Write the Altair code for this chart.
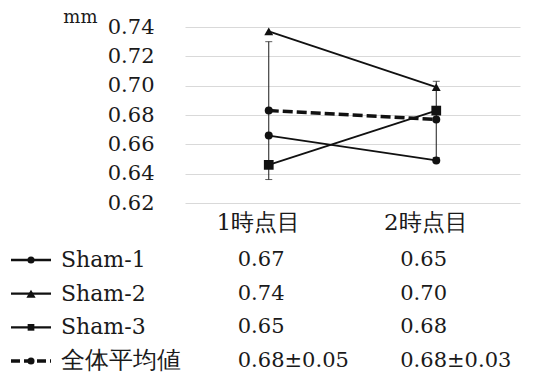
import altair as alt
import pandas as pd

# Measurement time points (x categories)
time_points = ["1時点目", "2時点目"]

# Individual series (mm)
series_names = ["Sham-1", "Sham-2", "Sham-3"]
sham1 = [0.666, 0.649]
sham2 = [0.737, 0.699]
sham3 = [0.646, 0.683]

# Overall mean and standard deviation (mm)
mean_label = "全体平均値"
mean_values = [0.683, 0.677]
sd_values = [0.047, 0.026]

y_ticks = [0.62, 0.64, 0.66, 0.68, 0.70, 0.72, 0.74]
shapes = ["circle", "triangle-up", "square"]
marker_sizes = [64, 95, 56]
key_sizes = [50, 85, 45, 50]
name_font_sizes = [22, 22, 22, 24]

SERIF = "DejaVu Serif"
INK = "#1a1a1a"

rows = []
for name, vals in zip(series_names, [sham1, sham2, sham3]):
    for t, v in zip(time_points, vals):
        rows.append({"series": name, "time": t, "value": v,
                     "label": f"{v:.2f}"})
series_df = pd.DataFrame(rows)

mean_df = pd.DataFrame({
    "time": time_points,
    "mean": mean_values,
    "sd": sd_values,
    "label": [f"{m:.2f}±{s:.2f}" for m, s in zip(mean_values, sd_values)],
})
mean_df["lo"] = mean_df["mean"] - mean_df["sd"]
mean_df["hi"] = mean_df["mean"] + mean_df["sd"]

row_order = series_names + [mean_label]

x_enc = alt.X("time:N", sort=time_points,
              scale=alt.Scale(type="point", domain=time_points, padding=0.5),
              axis=alt.Axis(title=None, labelOffset=-11, labelPadding=8,
                            labelFontSize=23))
y_scale = alt.Scale(domain=[0.62, 0.74], nice=False, zero=False)
y_axis = alt.Axis(values=y_ticks, format=".2f", grid=True,
                  labelPadding=31, title="mm", titleAngle=0,
                  titleAlign="right", titleBaseline="alphabetic",
                  titleX=-88, titleY=-5, titleFontSize=18)

# Error bars (mean ± SD)
err_rule = alt.Chart(mean_df).mark_rule(color=INK, strokeWidth=1).encode(
    x=x_enc,
    y=alt.Y("lo:Q", scale=y_scale, axis=y_axis),
    y2="hi:Q",
)
err_lo = alt.Chart(mean_df).mark_tick(color=INK, thickness=1, size=7,
                                      orient="horizontal").encode(
    x=x_enc, y=alt.Y("lo:Q", scale=y_scale, axis=y_axis))
err_hi = alt.Chart(mean_df).mark_tick(color=INK, thickness=1, size=7,
                                      orient="horizontal").encode(
    x=x_enc, y=alt.Y("hi:Q", scale=y_scale, axis=y_axis))

# Individual series lines and markers
lines = alt.Chart(series_df).mark_line(color="#111111", strokeWidth=1.8).encode(
    x=x_enc, y=alt.Y("value:Q", scale=y_scale, axis=y_axis), detail="series:N")
points = alt.Chart(series_df).mark_point(filled=True, color="#111111",
                                         opacity=1).encode(
    x=x_enc, y=alt.Y("value:Q", scale=y_scale, axis=y_axis),
    shape=alt.Shape("series:N", scale=alt.Scale(domain=series_names,
                                                range=shapes), legend=None),
    size=alt.Size("series:N", scale=alt.Scale(domain=series_names,
                                              range=marker_sizes), legend=None))

# Overall mean (dashed)
mean_line = alt.Chart(mean_df).mark_line(color="#111111", strokeWidth=3.5,
                                         strokeDash=[10, 4]).encode(
    x=x_enc, y=alt.Y("mean:Q", scale=y_scale, axis=y_axis))
mean_pts = alt.Chart(mean_df).mark_point(filled=True, color="#111111",
                                         opacity=1, size=64,
                                         shape="circle").encode(
    x=x_enc, y=alt.Y("mean:Q", scale=y_scale, axis=y_axis))

plot = alt.layer(err_rule, err_lo, err_hi, lines, points, mean_line, mean_pts)

# Data table below the plot
table_rows = series_df[["series", "time", "label"]].rename(columns={"series": "row"})
table_mean = mean_df[["time", "label"]].assign(row=mean_label)
table_df = pd.concat([table_rows, table_mean], ignore_index=True)
table_df["shape"] = table_df["row"].map(dict(zip(row_order, shapes + ["circle"])))
table_df["ksize"] = table_df["row"].map(dict(zip(row_order, key_sizes)))
table_df["fsize"] = table_df["row"].map(dict(zip(row_order, name_font_sizes)))
table_df["dashed"] = table_df["row"] == mean_label

row_y = alt.Y("row:N", sort=row_order,
              scale=alt.Scale(type="point", domain=row_order,
                              range=[233, 334], padding=0),
              axis=None)

col_offsets = [-31, -36]
value_layers = []
for t, off in zip(time_points, col_offsets):
    value_layers.append(
        alt.Chart(table_df).transform_filter(alt.datum.time == t)
        .mark_text(align="left", baseline="middle", dx=off, font=SERIF,
                   fontSize=21, color=INK)
        .encode(x=x_enc, y=row_y, text="label:N")
    )

keys_df = table_df.drop_duplicates("row")[["row", "shape", "ksize", "fsize",
                                           "dashed"]]

name_text = alt.Chart(keys_df).mark_text(
    align="left", baseline="middle", font=SERIF,
    color=INK).encode(x=alt.value(-124), y=row_y, text="row:N",
                      size=alt.Size("fsize:Q", scale=None, legend=None))

key_solid = alt.Chart(keys_df).transform_filter(~alt.datum.dashed).mark_rule(
    color="#111111", strokeWidth=2.4).encode(
    x=alt.value(-174), x2=alt.value(-134), y=row_y)
key_dash = alt.Chart(keys_df).transform_filter(alt.datum.dashed).mark_rule(
    color="#111111", strokeWidth=3.5, strokeDash=[9, 4]).encode(
    x=alt.value(-174), x2=alt.value(-134), y=row_y)
key_pts = alt.Chart(keys_df).mark_point(filled=True, color="#111111",
                                        opacity=1).encode(
    x=alt.value(-154), y=row_y,
    shape=alt.Shape("shape:N", scale=None, legend=None),
    size=alt.Size("ksize:Q", scale=None, legend=None))

table = alt.layer(*value_layers, name_text, key_solid, key_dash, key_pts)

chart = (
    alt.layer(plot, table)
    .resolve_scale(y="independent")
    .properties(
        width=335, height=176,
        autosize=alt.AutoSizeParams(type="none"),
        padding={"left": 185, "top": 27, "right": 17, "bottom": 171},
        background="white",
    )
    .configure(font=SERIF)
    .configure_view(stroke=None)
    .configure_axis(domain=False, ticks=False, labelFont=SERIF,
                    labelFontSize=21, labelColor=INK, titleFont=SERIF,
                    titleFontWeight="normal", titleColor=INK,
                    labelOverlap=False, gridColor="#d9d9d9", gridWidth=1)
    .configure_axisX(grid=False, labelAngle=0)
)

chart.save("out.html", embed_options={"renderer": "svg", "actions": False})
